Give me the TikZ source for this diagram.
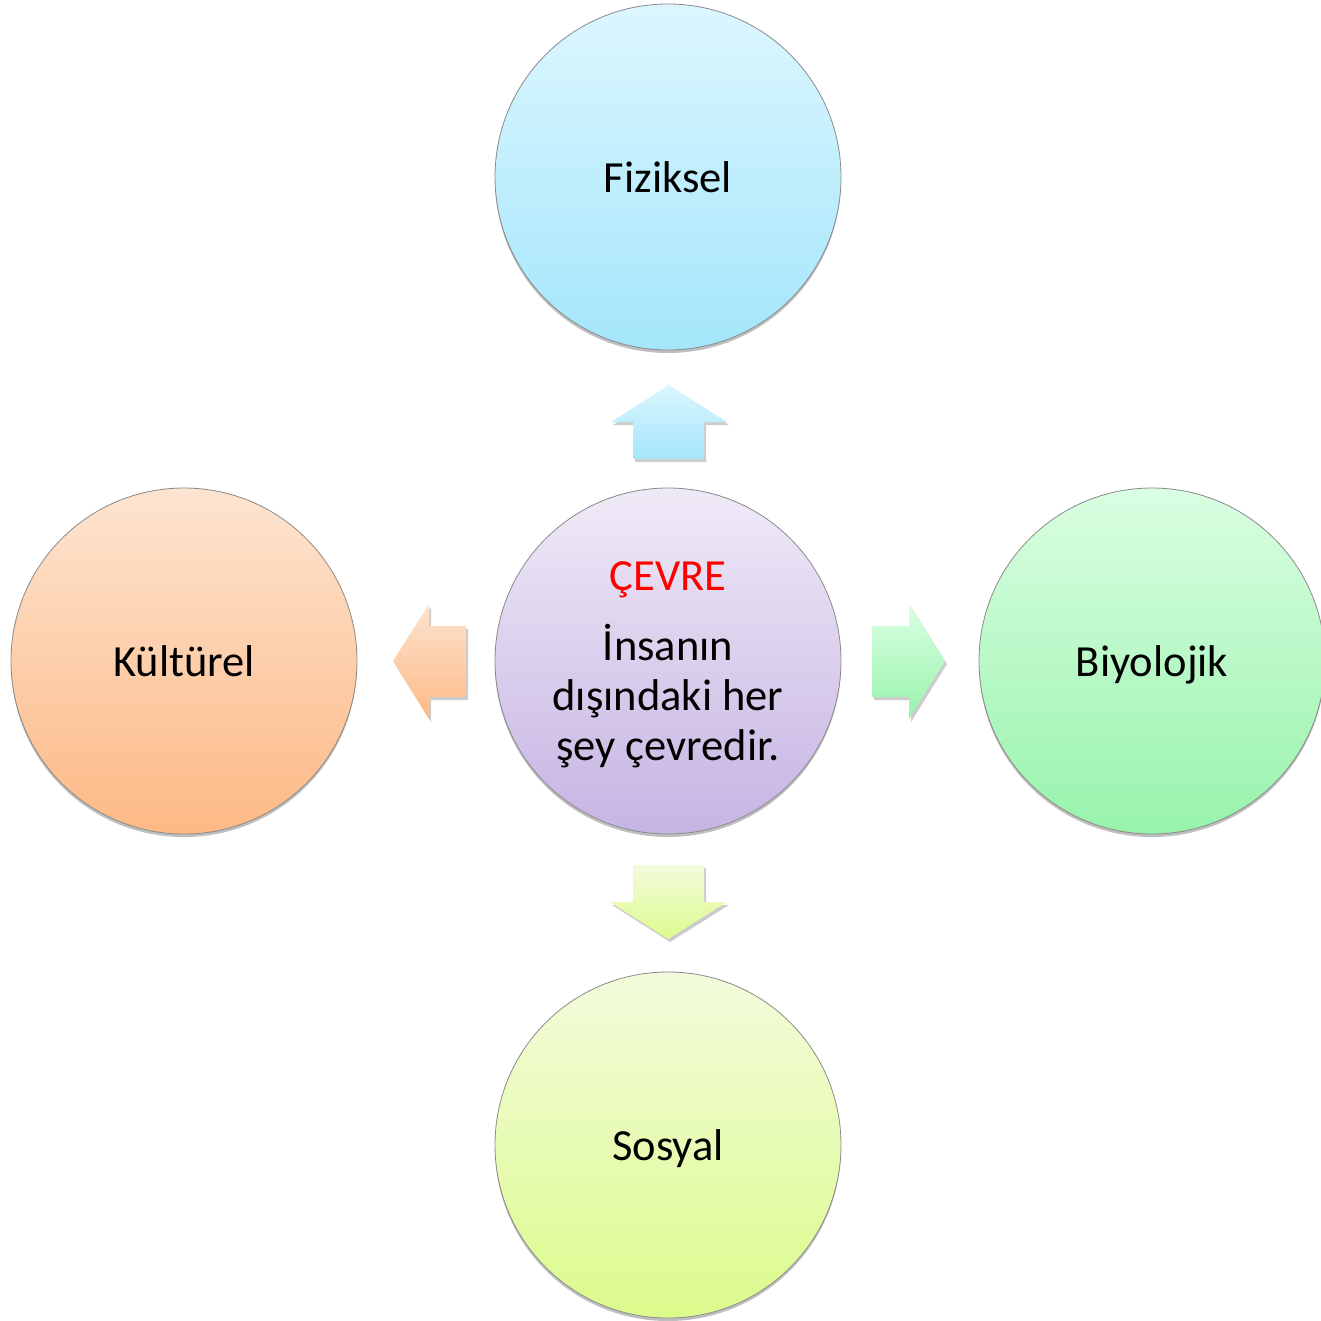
\documentclass[tikz,border=0pt]{standalone}
\usepackage{fontspec}
\setmainfont{Carlito}
\usetikzlibrary{shadows}
\definecolor{cyanT}{HTML}{DCF6FF}\definecolor{cyanB}{HTML}{A4E6FB}
\definecolor{purT}{HTML}{EFEAF7}\definecolor{purB}{HTML}{C6B4E3}
\definecolor{orT}{HTML}{FDE4D0}\definecolor{orB}{HTML}{FDB985}
\definecolor{grT}{HTML}{DAFEE2}\definecolor{grB}{HTML}{98F3AC}
\definecolor{liT}{HTML}{F3FBDC}\definecolor{liB}{HTML}{DCFB8C}
\definecolor{ringgray}{HTML}{8A8A8A}
\definecolor{cevred}{HTML}{FF0000}
\tikzset{
  bubble/.style={circle, minimum size=346pt, inner sep=0pt, draw=ringgray, line width=0.8pt,
     text height=30pt, text depth=0pt,
     drop shadow={shadow xshift=0pt, shadow yshift=-3pt, opacity=0.25, fill=black},
     font=\fontsize{44.5}{50}\selectfont},
  blockarrow/.style={draw=none,
     drop shadow={shadow xshift=2pt, shadow yshift=-3pt, opacity=0.2, fill=black}},
  txt/.style={anchor=base, inner sep=0pt, font=\fontsize{44.5}{50}\selectfont}
}
\begin{document}
\begin{tikzpicture}[x=1pt,y=-1pt]
\useasboundingbox (0,0) rectangle (1321,1320);
\fill[white] (0,0) rectangle (1321,1320);

% circles
\node[bubble, top color=cyanT, bottom color=cyanB] (fiz) at (668,177) {Fiziksel};
\node[bubble, top color=purT, bottom color=purB] (cev) at (668,661) {};
\node[bubble, top color=orT, bottom color=orB] (kul) at (184,661) {Kültürel};
\node[bubble, top color=grT, bottom color=grB] (bio) at (1152,661) {Biyolojik};
\node[bubble, top color=liT, bottom color=liB] (sos) at (668,1145) {Sosyal};

% centre text
\node[txt, text=cevred] (t0) at (668,590) {ÇEVRE};
\node[txt] (t1) at (668,660) {İnsanın};
\node[txt] (t2) at (668,710) {dışındaki her};
\node[txt] (t3) at (668,760) {şey çevredir.};

% block arrows
\path[blockarrow, top color=cyanT, bottom color=cyanB]
  (669,385) -- (727,422) -- (704,422) -- (704,459) -- (633,459) -- (633,422) -- (611,422) -- cycle;
\path[blockarrow, top color=liT, bottom color=liB]
  (668,939) -- (727,902) -- (704,902) -- (704,865) -- (633,865) -- (633,902) -- (610,902) -- cycle;
\path[blockarrow, top color=orT, bottom color=orB]
  (393,661) -- (429,604) -- (429,626) -- (466,626) -- (466,697) -- (429,697) -- (429,719) -- cycle;
\path[blockarrow, top color=grT, bottom color=grB]
  (945,661) -- (909,604) -- (909,626) -- (872,626) -- (872,697) -- (909,697) -- (909,719) -- cycle;
\end{tikzpicture}
\end{document}
